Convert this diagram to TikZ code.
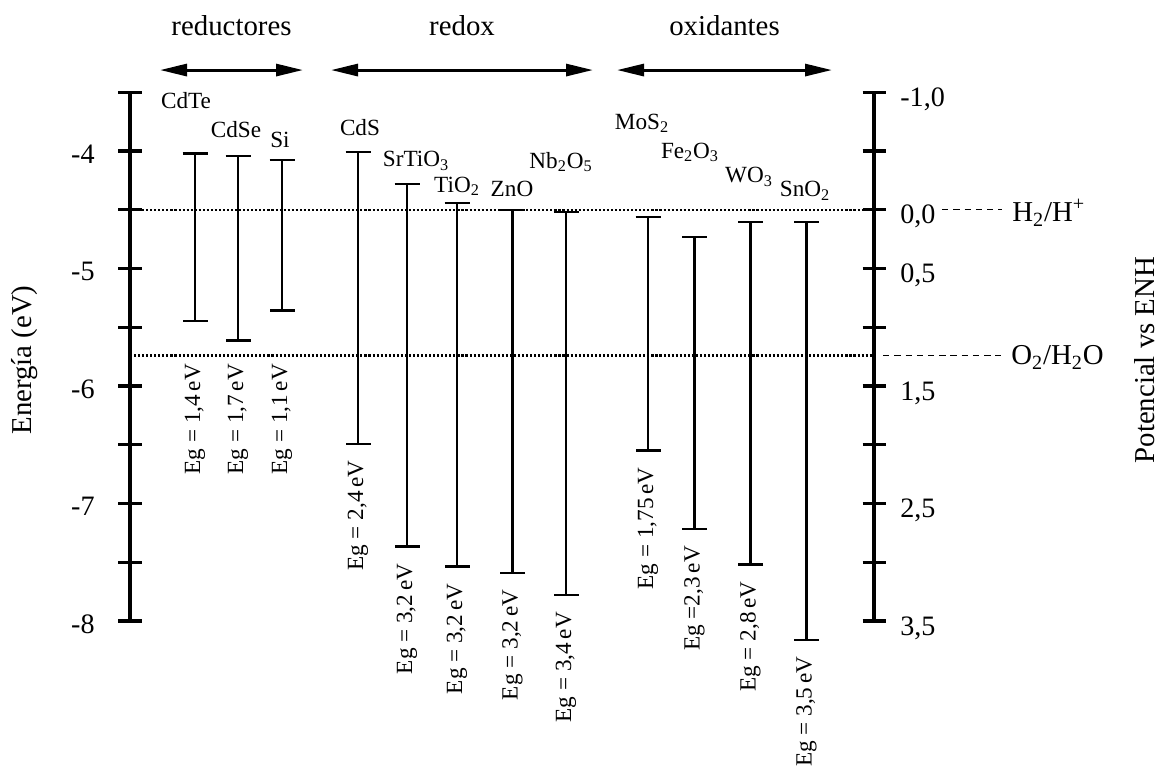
\documentclass[tikz,border=0pt]{standalone}
\usepackage{fontspec}
\setmainfont{Liberation Serif}
\usetikzlibrary{arrows.meta}

\tikzset{
  axisline/.style={line width=1.8pt},
  band/.style={line width=1.3pt, {Bar[width=5mm]}-{Bar[width=5mm]}},
  grouparrow/.style={line width=1.7pt, {Triangle[length=5.4mm,width=2.4mm]}-{Triangle[length=5.4mm,width=2.4mm]}},
  level/.style={line width=1.2pt, dash pattern=on 1.2pt off 1.1pt},
  levelext/.style={line width=0.8pt, dash pattern=on 3.6pt off 2.8pt},
  biglabel/.style={font=\fontsize{16.4}{19}\selectfont, inner sep=0pt},
  numlabel/.style={font=\fontsize{16}{19}\selectfont, inner sep=0pt},
  matlabel/.style={font=\fontsize{13.2}{15}\selectfont, inner sep=0pt, anchor=base},
  eglabel/.style={font=\fontsize{13.2}{15}\selectfont, inner sep=0pt, rotate=90, anchor=east},
}

\begin{document}
\begin{tikzpicture}[x=1cm, y=2.35cm]
\useasboundingbox (0,-9.2426) rectangle (23.3,-2.7149);

% energy axis (left)
\draw[axisline] (2.6,-3.5) -- (2.6,-8);
\draw[axisline] (2.36,-3.5) -- (2.84,-3.5) (2.36,-4) -- (2.84,-4) (2.36,-4.5) -- (2.84,-4.5)
  (2.36,-5) -- (2.84,-5) (2.36,-5.5) -- (2.84,-5.5) (2.36,-6) -- (2.84,-6)
  (2.36,-6.5) -- (2.84,-6.5) (2.36,-7) -- (2.84,-7) (2.36,-7.5) -- (2.84,-7.5) (2.36,-8) -- (2.84,-8);
\node[numlabel, anchor=base east] (e4) at (1.9,-4.105) {-4};
\node[numlabel, anchor=base east] (e5) at (1.9,-5.105) {-5};
\node[numlabel, anchor=base east] (e6) at (1.9,-6.105) {-6};
\node[numlabel, anchor=base east] (e7) at (1.9,-7.105) {-7};
\node[numlabel, anchor=base east] (e8) at (1.9,-8.105) {-8};
\node[biglabel, rotate=90] (energia) at (0.5,-5.779) {Energía (eV)};

% potential axis (right)
\draw[axisline] (17.48,-3.5) -- (17.48,-8);
\draw[axisline] (17.25,-3.5) -- (17.71,-3.5) (17.25,-4) -- (17.71,-4) (17.25,-4.5) -- (17.71,-4.5)
  (17.25,-5) -- (17.71,-5) (17.25,-5.5) -- (17.71,-5.5) (17.25,-6) -- (17.71,-6)
  (17.25,-6.5) -- (17.71,-6.5) (17.25,-7) -- (17.71,-7) (17.25,-7.5) -- (17.71,-7.5) (17.25,-8) -- (17.71,-8);
\node[numlabel, anchor=base west] (pm10) at (18.0,-3.62) {-1,0};
\node[numlabel, anchor=base west] (p00) at (18.0,-4.62) {0,0};
\node[numlabel, anchor=base west] (p05) at (18.0,-5.12) {0,5};
\node[numlabel, anchor=base west] (p15) at (18.0,-6.12) {1,5};
\node[numlabel, anchor=base west] (p25) at (18.0,-7.12) {2,5};
\node[numlabel, anchor=base west] (p35) at (18.0,-8.12) {3,5};
\node[biglabel, rotate=90] (potencial) at (22.9,-5.779) {Potencial vs ENH};

% water levels
\coordinate (hL) at (2.6,-4.5);
\coordinate (hR) at (17.48,-4.5);
\coordinate (oL) at (2.6,-5.74);
\coordinate (oR) at (17.48,-5.74);
\draw[level] (hL) -- (hR);
\draw[level] (oL) -- (oR);
\node[biglabel, anchor=base west] (hredox) at (20.24,-4.6) {H\textsubscript{2}/H\textsuperscript{+}};
\node[biglabel, anchor=base west] (oredox) at (20.22,-5.82) {O\textsubscript{2}/H\textsubscript{2}O};
\draw[levelext] (18.84,-4.5) -- ([xshift=-2mm]hredox.west |- hR);
\draw[levelext] (17.66,-5.74) -- ([xshift=-2mm]oredox.west |- oR);

% groups
\coordinate (redL) at (3.2,-3.311);   \coordinate (redR) at (6.06,-3.311);
\coordinate (rdxL) at (6.62,-3.311);  \coordinate (rdxR) at (11.86,-3.311);
\coordinate (oxL) at (12.34,-3.311);  \coordinate (oxR) at (16.64,-3.311);
\draw[grouparrow] (redL) -- (redR);
\draw[grouparrow] (rdxL) -- (rdxR);
\draw[grouparrow] (oxL) -- (oxR);
\node[biglabel, anchor=base] (reductores) at (4.63,-3.013) {reductores};
\node[biglabel, anchor=base] (redox) at (9.24,-3.013) {redox};
\node[biglabel, anchor=base] (oxidantes) at (14.49,-3.013) {oxidantes};

% band edges
\draw[band] (3.9,-4.011) -- (3.9,-5.458);
\draw[band] (4.76,-4.034) -- (4.76,-5.623);
\draw[band] (5.64,-4.068) -- (5.64,-5.368);
\draw[band] (7.16,-4.0) -- (7.16,-6.502);
\draw[band] (8.14,-4.272) -- (8.14,-7.376);
\draw[band] (9.14,-4.434) -- (9.14,-7.546);
\draw[band] (10.25,-4.494) -- (10.25,-7.6);
\draw[band] (11.32,-4.511) -- (11.32,-7.787);
\draw[band] (12.96,-4.553) -- (12.96,-6.559);
\draw[band] (13.89,-4.723) -- (13.89,-7.226);
\draw[band] (15.01,-4.596) -- (15.01,-7.529);
\draw[band] (16.13,-4.596) -- (16.13,-8.17);

% materials
\node[matlabel] (CdTe) at (3.72,-3.634) {CdTe};
\node[matlabel] (CdSe) at (4.72,-3.881) {CdSe};
\node[matlabel] (Si) at (5.6,-3.966) {Si};
\node[matlabel] (CdS) at (7.2,-3.864) {CdS};
\node[matlabel] (SrTiO) at (8.32,-4.136) {SrTiO\textsubscript{3}};
\node[matlabel] (TiO) at (9.14,-4.349) {TiO\textsubscript{2}};
\node[matlabel] (ZnO) at (10.24,-4.383) {ZnO};
\node[matlabel] (NbO) at (11.22,-4.145) {Nb\textsubscript{2}O\textsubscript{5}};
\node[matlabel] (MoS) at (12.84,-3.813) {MoS\textsubscript{2}};
\node[matlabel] (FeO) at (13.8,-4.06) {Fe\textsubscript{2}O\textsubscript{3}};
\node[matlabel] (WO) at (14.98,-4.272) {WO\textsubscript{3}};
\node[matlabel] (SnO) at (16.1,-4.391) {SnO\textsubscript{2}};

% band gaps
\node[eglabel] (egCdTe) at (3.9,-5.81) {Eg = 1,4\,eV};
\node[eglabel] (egCdSe) at (4.76,-5.81) {Eg = 1,7\,eV};
\node[eglabel] (egSi) at (5.64,-5.81) {Eg = 1,1\,eV};
\node[eglabel] (egCdS) at (7.16,-6.63) {Eg = 2,4\,eV};
\node[eglabel] (egSrTiO) at (8.14,-7.51) {Eg = 3,2\,eV};
\node[eglabel] (egTiO) at (9.14,-7.68) {Eg = 3,2\,eV};
\node[eglabel] (egZnO) at (10.25,-7.73) {Eg = 3,2\,eV};
\node[eglabel] (egNbO) at (11.32,-7.92) {Eg = 3,4\,eV};
\node[eglabel] (egMoS) at (12.96,-6.69) {Eg = 1,75\,eV};
\node[eglabel] (egFeO) at (13.89,-7.36) {Eg =2,3\,eV};
\node[eglabel] (egWO) at (15.01,-7.66) {Eg = 2,8\,eV};
\node[eglabel] (egSnO) at (16.13,-8.30) {Eg = 3,5\,eV};
\end{tikzpicture}
\end{document}
